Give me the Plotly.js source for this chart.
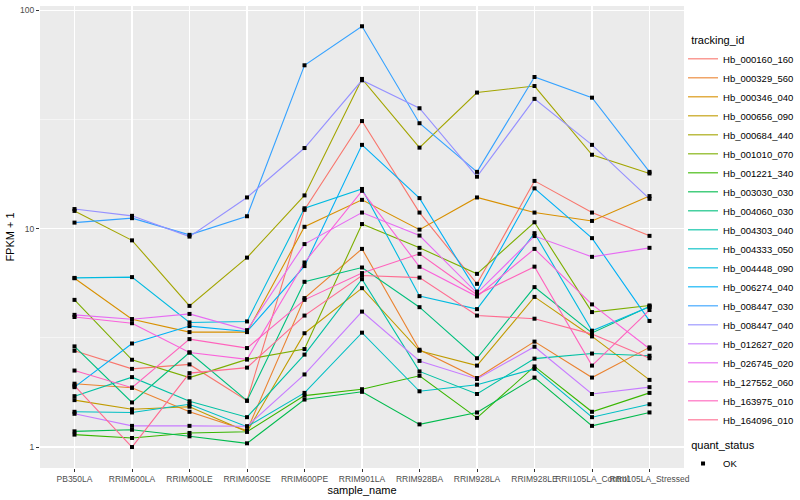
<!DOCTYPE html>
<html>
<head>
<meta charset="utf-8">
<script src="https://cdn.plot.ly/plotly-3.0.1.min.js"></script>
<style>html,body{margin:0;padding:0;background:#fff}#chart{width:800px;height:500px}</style>
</head>
<body>
<div id="chart"></div>
<script>
const samples = ["PB350LA","RRIM600LA","RRIM600LE","RRIM600SE","RRIM600PE","RRIM901LA","RRIM928BA","RRIM928LA","RRIM928LE","RRII105LA_Control","RRII105LA_Stressed"];

const trackingIds = ["Hb_000160_160","Hb_000329_560","Hb_000346_040","Hb_000656_090","Hb_000684_440","Hb_001010_070","Hb_001221_340","Hb_003030_030","Hb_004060_030","Hb_004303_040","Hb_004333_050","Hb_004448_090","Hb_006274_040","Hb_008447_030","Hb_008447_040","Hb_012627_020","Hb_026745_020","Hb_127552_060","Hb_163975_010","Hb_164096_010"];

const palette = ["#F8766D","#EA8331","#D89000","#C09B00","#A3A500","#7CAE00","#39B600","#00BB4E","#00BF7D","#00C1A3","#00BFC4","#00BAE0","#00B0F6","#35A2FF","#9590FF","#C77CFF","#E76BF3","#FA62DB","#FF62BC","#FF6C91"];

// FPKM + 1 values, one array per tracking_id, in sample order
const hb_000160_160 = [2.76, 2.28, 2.39, 1.63, 12.2, 31.1, 11.85, 5.59, 16.55, 11.85, 9.27];
const hb_000329_560 = [1.95, 1.87, 1.45, 1.19, 4.81, 8.08, 2.79, 2.07, 3.04, 2.08, 2.86];
const hb_000346_040 = [5.93, 3.85, 3.36, 3.36, 10.2, 13.55, 9.9, 13.9, 11.85, 10.85, 14.1];
const hb_000656_090 = [1.64, 1.49, 1.53, 1.175, 3.32, 5.34, 2.76, 2.36, 4.87, 3.21, 2.03];
const hb_000684_440 = [12.06, 8.84, 4.43, 7.37, 14.2, 48.5, 23.5, 42.0, 45.0, 21.8, 17.9];
const hb_001010_070 = [4.72, 2.51, 2.08, 2.52, 2.81, 10.5, 8.17, 6.21, 10.7, 4.15, 4.45];
const hb_001221_340 = [1.14, 1.10, 1.16, 1.175, 1.72, 1.84, 2.12, 1.36, 2.34, 1.45, 1.77];
const hb_003030_030 = [1.18, 1.20, 1.12, 1.04, 1.65, 1.79, 1.27, 1.44, 2.08, 1.25, 1.44];
const hb_004060_030 = [2.89, 1.60, 2.71, 1.63, 5.71, 6.64, 4.37, 2.55, 5.40, 3.33, 4.40];
const hb_004303_040 = [1.71, 2.09, 1.62, 1.37, 2.65, 5.87, 2.22, 1.75, 2.54, 2.68, 2.62];
const hb_004333_050 = [1.45, 1.44, 1.57, 1.24, 1.77, 3.34, 1.80, 1.93, 2.28, 1.37, 1.57];
const hb_004448_090 = [5.95, 6.0, 3.72, 3.76, 12.4, 15.2, 4.91, 4.28, 9.54, 3.41, 4.39];
const hb_006274_040 = [1.88, 2.98, 3.58, 3.38, 6.74, 24.2, 13.8, 5.15, 15.3, 9.05, 3.78];
const hb_008447_030 = [10.66, 11.17, 9.37, 11.4, 56.0, 84.5, 30.4, 18.2, 49.5, 39.8, 18.2];
const hb_008447_040 = [12.3, 11.45, 9.2, 13.9, 23.4, 47.8, 35.6, 17.3, 39.3, 24.2, 13.7];
const hb_012627_020 = [1.42, 1.25, 1.25, 1.245, 2.15, 4.17, 2.48, 2.05, 2.88, 1.75, 1.88];
const hb_026745_020 = [4.03, 3.85, 4.07, 3.43, 8.5, 11.85, 9.3, 5.07, 9.25, 7.43, 8.17];
const hb_127552_060 = [3.94, 3.69, 2.71, 2.52, 7.0, 14.9, 6.69, 4.89, 8.08, 4.5, 2.82];
const hb_163975_010 = [2.24, 1.87, 3.12, 2.84, 4.72, 6.26, 7.67, 4.98, 6.7, 2.36, 4.24];
const hb_164096_010 = [1.91, 1.0, 2.18, 2.31, 4.0, 6.1, 5.97, 4.0, 3.87, 3.29, 2.55];

const seriesValues = [hb_000160_160, hb_000329_560, hb_000346_040, hb_000656_090, hb_000684_440, hb_001010_070, hb_001221_340, hb_003030_030, hb_004060_030, hb_004303_040, hb_004333_050, hb_004448_090, hb_006274_040, hb_008447_030, hb_008447_040, hb_012627_020, hb_026745_020, hb_127552_060, hb_163975_010, hb_164096_010];

const yTickVals = [1, 10, 100];
const yTickText = ["1", "10", "100"];
const quantStatus = ["OK"];

const font = "Liberation Sans, Arial, Helvetica, sans-serif";
const pad = "\u00a0\u00a0";

const traces = seriesValues.map((vals, i) => ({
  type: "scatter",
  mode: "lines",
  x: samples,
  y: vals,
  name: trackingIds[i],
  legend: "legend",
  line: {color: palette[i], width: 1.1},
  hoverinfo: "skip"
}));

const ptsX = [], ptsY = [];
seriesValues.forEach(vals => vals.forEach((v, j) => { ptsX.push(samples[j]); ptsY.push(v); }));
traces.push({
  type: "scatter",
  mode: "markers",
  x: ptsX,
  y: ptsY,
  name: quantStatus[0],
  legend: "legend2",
  marker: {color: "#000000", size: 4, symbol: "square"},
  hoverinfo: "skip"
});

const layout = {
  width: 800,
  height: 500,
  paper_bgcolor: "#FFFFFF",
  plot_bgcolor: "#EBEBEB",
  font: {family: font, color: "#000000", size: 11},
  margin: {l: 40, r: 116, t: 6, b: 32, autoexpand: false},
  showlegend: true,
  xaxis: {
    type: "category",
    categoryorder: "array",
    categoryarray: samples,
    range: [-0.6, 10.6],
    showgrid: true,
    gridcolor: "#FFFFFF",
    gridwidth: 1.1,
    zeroline: false,
    showline: false,
    ticks: "outside",
    ticklen: 3,
    tickcolor: "#333333",
    tickwidth: 1,
    tickangle: 0,
    tickfont: {family: font, size: 8.5, color: "#4D4D4D"},
    title: {text: "sample_name", font: {family: font, size: 11, color: "#000000"}, standoff: 3},
    automargin: false
  },
  yaxis: {
    type: "log",
    range: [-0.096, 2.0197],
    tickmode: "array",
    tickvals: yTickVals,
    ticktext: yTickText,
    showgrid: true,
    gridcolor: "#FFFFFF",
    gridwidth: 1.1,
    zeroline: false,
    showline: false,
    ticks: "outside",
    ticklen: 3,
    tickcolor: "#333333",
    tickwidth: 1,
    tickfont: {family: font, size: 8.5, color: "#4D4D4D"},
    title: {text: "FPKM + 1", font: {family: font, size: 11, color: "#000000"}, standoff: 3},
    minor: {tickmode: "array", tickvals: [3.1623, 31.623], showgrid: true, gridcolor: "#FFFFFF", gridwidth: 0.5, ticks: ""},
    automargin: false
  },
  legend: {
    x: 0.9985, xanchor: "left",
    y: 0.948, yanchor: "top",
    bgcolor: "rgba(0,0,0,0)",
    itemwidth: 30,
    font: {family: font, size: 9.5, color: "#000000"},
    title: {text: pad + "tracking_id", font: {family: font, size: 11, color: "#000000"}},
    traceorder: "normal"
  },
  legend2: {
    x: 0.9985, xanchor: "left",
    y: 0.072, yanchor: "top",
    bgcolor: "rgba(0,0,0,0)",
    itemwidth: 30,
    font: {family: font, size: 9.5, color: "#000000"},
    title: {text: pad + "quant_status", font: {family: font, size: 11, color: "#000000"}}
  }
};

Plotly.newPlot("chart", traces, layout, {displayModeBar: false, staticPlot: true});
</script>
</body>
</html>
